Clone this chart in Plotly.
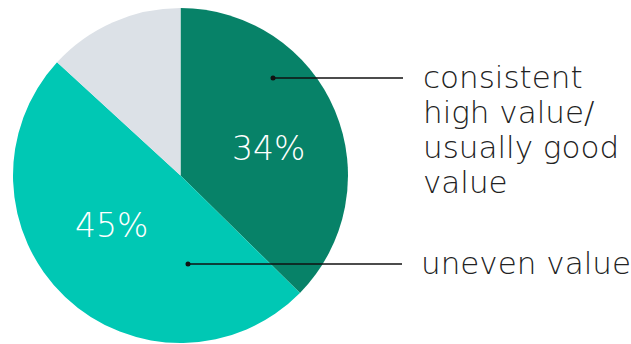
import plotly.graph_objects as go

# Share of responses by perceived value
categories = ["consistent high value/ usually good value", "uneven value", "other"]
values = [34, 45, 12]
pct_labels = ["34%", "45%", ""]
colors = ["#078268", "#00C8B4", "#DCE1E7"]
label_lines = [["consistent", "high value/", "usually good", "value"], ["uneven value"]]

W, H = 631, 344


def px(x):
    return x / W


def py(y):
    return 1 - y / H


fig = go.Figure()
fig.add_trace(go.Pie(
    labels=categories,
    values=values,
    sort=False,
    direction="clockwise",
    rotation=0,
    marker=dict(colors=colors, line=dict(width=0)),
    textinfo="none",
    hoverinfo="label+value",
    showlegend=False,
    domain=dict(x=[px(13), px(348)], y=[py(343), py(8)]),
))

font_family = "'DejaVu Sans', sans-serif"

# percentage labels inside the slices
label_pos = [(268, 148), (111, 226)]
for (x, y), t in zip(label_pos, pct_labels[:2]):
    fig.add_annotation(x=px(x), y=py(y), xref="paper", yref="paper",
                       xanchor="center", yanchor="middle",
                       text=t, showarrow=False,
                       font=dict(family=font_family, size=33, color="white", weight=200))

# leader lines with dots
leaders = [((273, 78), 403), ((188, 264), 402)]
shapes = []
for (x0, y0), x1 in leaders:
    shapes.append(dict(type="line", xref="paper", yref="paper",
                       x0=px(x0), y0=py(y0), x1=px(x1), y1=py(y0),
                       line=dict(color="#111111", width=1.5)))
    shapes.append(dict(type="circle", xref="paper", yref="paper",
                       x0=px(x0 - 2.5), y0=py(y0 + 2.5), x1=px(x0 + 2.5), y1=py(y0 - 2.5),
                       fillcolor="#111111", line=dict(width=0)))

# category text, one annotation per line for a tight line pitch
line_pitch = 35
for (x, y0), lines in zip([(421, 77), (419, 263)], label_lines):
    for i, ln in enumerate(lines):
        fig.add_annotation(x=px(x), y=py(y0 + i * line_pitch), xref="paper", yref="paper",
                           xanchor="left", yanchor="middle", align="left",
                           text=ln, showarrow=False,
                           font=dict(family=font_family, size=31, color="#222222", weight=200))

fig.update_layout(
    width=W, height=H,
    margin=dict(l=0, r=0, t=0, b=0),
    paper_bgcolor="white",
    plot_bgcolor="white",
    shapes=shapes,
)

fig.write_html("out.html")
